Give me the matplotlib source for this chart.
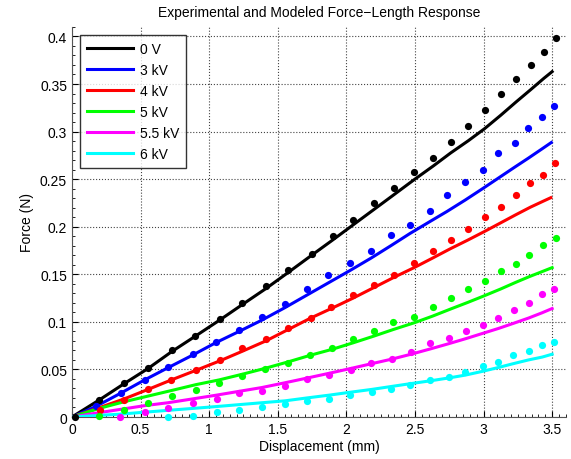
import matplotlib
matplotlib.use("Agg")
import matplotlib.pyplot as plt
from matplotlib.ticker import MultipleLocator

plt.rcParams['font.family'] = ['Liberation Sans', 'DejaVu Sans']

# Experimental points (displacement mm, force N)
exp_x_0v = [0.02, 0.20, 0.38, 0.555, 0.73, 0.90, 1.078, 1.24, 1.414, 1.577, 1.747, 1.90, 2.05,
            2.20, 2.35, 2.49, 2.635, 2.76, 2.89, 3.007, 3.124, 3.236, 3.343, 3.44, 3.526]
exp_y_0v = [0.0, 0.018, 0.036, 0.052, 0.0705, 0.0856, 0.103, 0.12, 0.138, 0.154, 0.1716, 0.19, 0.2067,
            0.2245, 0.241, 0.257, 0.2726, 0.289, 0.306, 0.3228, 0.3397, 0.355, 0.370, 0.384, 0.3986]

exp_x_3kv = [0.173, 0.355, 0.53, 0.703, 0.879, 1.047, 1.219, 1.387, 1.553, 1.711, 1.869, 2.027,
             2.18, 2.324, 2.465, 2.61, 2.733, 2.866, 2.993, 3.107, 3.226, 3.326, 3.423, 3.516]
exp_y_3kv = [0.0113, 0.0253, 0.0393, 0.053, 0.0663, 0.0793, 0.0919, 0.1056, 0.119, 0.1347, 0.1488, 0.162,
             0.175, 0.191, 0.2014, 0.217, 0.233, 0.247, 0.260, 0.277, 0.288, 0.3035, 0.3154, 0.327]

exp_x_4kv = [0.203, 0.38, 0.555, 0.725, 0.903, 1.078, 1.24, 1.414, 1.577, 1.74, 1.89, 2.05,
             2.20, 2.35, 2.494, 2.628, 2.76, 2.886, 3.007, 3.124, 3.234, 3.341, 3.43, 3.523]
exp_y_4kv = [0.0077, 0.0182, 0.0295, 0.039, 0.0495, 0.0603, 0.0723, 0.082, 0.094, 0.1039, 0.1154, 0.1284,
             0.139, 0.1495, 0.162, 0.174, 0.186, 0.198, 0.210, 0.2207, 0.233, 0.246, 0.2544, 0.267]

exp_x_5kv = [0.197, 0.38, 0.555, 0.73, 0.903, 1.073, 1.243, 1.404, 1.577, 1.735, 1.893, 2.05,
             2.20, 2.343, 2.494, 2.628, 2.76, 2.886, 3.007, 3.124, 3.234, 3.333, 3.43, 3.526]
exp_y_5kv = [0.0014, 0.0074, 0.0144, 0.0224, 0.0284, 0.0355, 0.0435, 0.0505, 0.0566, 0.0653, 0.0723, 0.082,
             0.090, 0.0996, 0.1056, 0.1154, 0.125, 0.1344, 0.1432, 0.153, 0.161, 0.1705, 0.1803, 0.188]

exp_x_55kv = [0.353, 0.533, 0.70, 0.879, 1.054, 1.219, 1.387, 1.553, 1.716, 1.876, 2.032, 2.183,
              2.336, 2.472, 2.611, 2.745, 2.874, 2.996, 3.107, 3.219, 3.328, 3.426, 3.516]
exp_y_55kv = [0.0003, 0.0056, 0.0095, 0.0146, 0.019, 0.0253, 0.0277, 0.0326, 0.040, 0.0442, 0.0495, 0.0565,
              0.061, 0.0688, 0.0775, 0.0828, 0.090, 0.0972, 0.1045, 0.1126, 0.1197, 0.1295, 0.1347]

exp_x_6kv = [0.70, 0.879, 1.054, 1.219, 1.385, 1.553, 1.711, 1.876, 2.027, 2.185, 2.324, 2.465,
             2.611, 2.745, 2.866, 2.993, 3.107, 3.215, 3.328, 3.428, 3.516]
exp_y_6kv = [0.0003, 0.0014, 0.005, 0.0074, 0.0102, 0.0137, 0.0165, 0.019, 0.0232, 0.026, 0.0295, 0.0337,
             0.039, 0.0418, 0.047, 0.054, 0.0582, 0.0653, 0.0698, 0.0758, 0.0793]

# Model curves
mod_x_0v = [0.0, 0.20, 0.38, 0.555, 0.73, 0.90, 1.078, 1.24, 1.414, 1.577, 1.747, 1.90, 2.05,
            2.20, 2.35, 2.49, 2.635, 2.76, 2.89, 3.007, 3.124, 3.236, 3.343, 3.44, 3.50]
mod_y_0v = [0.0, 0.018, 0.035, 0.051, 0.069, 0.085, 0.102, 0.118, 0.135, 0.152, 0.170, 0.186, 0.202,
            0.218, 0.234, 0.249, 0.264, 0.2775, 0.2905, 0.303, 0.317, 0.331, 0.344, 0.356, 0.363]

mod_x_3kv = [0.0, 0.173, 0.355, 0.53, 0.703, 0.879, 1.047, 1.219, 1.387, 1.553, 1.711, 1.869, 2.027,
             2.18, 2.324, 2.465, 2.61, 2.733, 2.866, 2.993, 3.107, 3.226, 3.326, 3.423, 3.494]
mod_y_3kv = [0.0, 0.011, 0.025, 0.039, 0.052, 0.065, 0.078, 0.090, 0.102, 0.115, 0.128, 0.141, 0.154,
             0.167, 0.180, 0.193, 0.2055, 0.216, 0.228, 0.240, 0.251, 0.2625, 0.272, 0.2815, 0.2885]

mod_x_4kv = [0.0, 0.203, 0.38, 0.555, 0.725, 0.903, 1.078, 1.24, 1.414, 1.577, 1.74, 1.89, 2.05,
             2.20, 2.35, 2.494, 2.628, 2.76, 2.886, 3.007, 3.124, 3.234, 3.341, 3.43, 3.49]
mod_y_4kv = [0.0, 0.010, 0.019, 0.029, 0.039, 0.049, 0.059, 0.069, 0.080, 0.092, 0.104, 0.114, 0.125,
             0.136, 0.147, 0.157, 0.167, 0.177, 0.186, 0.195, 0.204, 0.2125, 0.2205, 0.2265, 0.2305]

mod_x_5kv = [0.0, 0.197, 0.38, 0.555, 0.73, 0.903, 1.073, 1.243, 1.404, 1.577, 1.74, 1.893, 2.05,
             2.20, 2.343, 2.494, 2.628, 2.76, 2.886, 3.007, 3.124, 3.234, 3.333, 3.43, 3.50]
mod_y_5kv = [0.0, 0.009, 0.016, 0.022, 0.028, 0.034, 0.039, 0.045, 0.051, 0.058, 0.065, 0.071, 0.078,
             0.085, 0.092, 0.099, 0.106, 0.1135, 0.1205, 0.1275, 0.1345, 0.1415, 0.1475, 0.153, 0.157]

mod_x_55kv = [0.0, 0.173, 0.353, 0.533, 0.70, 0.879, 1.054, 1.219, 1.385, 1.553, 1.716, 1.876, 2.032,
              2.183, 2.336, 2.472, 2.611, 2.745, 2.874, 2.996, 3.107, 3.219, 3.328, 3.426, 3.50]
mod_y_55kv = [0.0, 0.004, 0.008, 0.012, 0.015, 0.019, 0.023, 0.027, 0.031, 0.036, 0.041, 0.046, 0.051,
              0.056, 0.061, 0.066, 0.0715, 0.077, 0.0825, 0.088, 0.093, 0.0985, 0.104, 0.1095, 0.114]

mod_x_6kv = [0.0, 0.35, 0.70, 0.879, 1.054, 1.219, 1.385, 1.553, 1.711, 1.876, 2.027, 2.185,
             2.324, 2.465, 2.611, 2.745, 2.866, 2.993, 3.107, 3.215, 3.328, 3.428, 3.50]
mod_y_6kv = [0.0, 0.003, 0.007, 0.009, 0.011, 0.013, 0.015, 0.017, 0.020, 0.023, 0.026, 0.029,
             0.032, 0.035, 0.038, 0.041, 0.044, 0.048, 0.052, 0.056, 0.060, 0.063, 0.066]

labels = ['0 V', '3 kV', '4 kV', '5 kV', '5.5 kV', '6 kV']
colors = ['#000000', '#0000ff', '#ff0000', '#00ff00', '#ff00ff', '#00ffff']

exp_x = [exp_x_0v, exp_x_3kv, exp_x_4kv, exp_x_5kv, exp_x_55kv, exp_x_6kv]
exp_y = [exp_y_0v, exp_y_3kv, exp_y_4kv, exp_y_5kv, exp_y_55kv, exp_y_6kv]
mod_x = [mod_x_0v, mod_x_3kv, mod_x_4kv, mod_x_5kv, mod_x_55kv, mod_x_6kv]
mod_y = [mod_y_0v, mod_y_3kv, mod_y_4kv, mod_y_5kv, mod_y_55kv, mod_y_6kv]

fig = plt.figure(figsize=(5.71, 4.6), dpi=100)
ax = fig.add_axes([0.126, 0.0913, 0.865, 0.848])

# model lines first so the legend uses them
for mx, my, c, lab in zip(mod_x, mod_y, colors, labels):
    ax.plot(mx, my, color=c, linewidth=2.2, label=lab, zorder=3)
for ex, ey, c in zip(exp_x, exp_y, colors):
    ax.plot(ex, ey, 'o', color=c, markersize=5.2, markeredgewidth=0, zorder=4, clip_on=False)

ax.set_xlim(0, 3.6)
ax.set_ylim(0, 0.41)
ax.xaxis.set_major_locator(MultipleLocator(0.5))
ax.xaxis.set_minor_locator(MultipleLocator(0.05))
ax.yaxis.set_major_locator(MultipleLocator(0.05))
ax.yaxis.set_minor_locator(MultipleLocator(0.01))
ax.set_xticklabels([f'{v:g}' for v in ax.get_xticks()])
ax.set_yticklabels([f'{v:g}' for v in ax.get_yticks()])

ax.tick_params(which='both', direction='in', labelsize=10)
ax.tick_params(which='major', length=4)
ax.tick_params(which='minor', length=2)
ax.grid(True, which='major', linestyle=':', color='#444444', linewidth=0.8)
ax.spines['top'].set_visible(False)
ax.spines['right'].set_visible(False)
ax.spines['left'].set_color('#555555')
ax.spines['bottom'].set_color('#555555')

ax.set_xlabel('Displacement (mm)', fontsize=10, labelpad=2)
ax.set_ylabel('Force (N)', fontsize=10, labelpad=4)
ax.set_title('Experimental and Modeled Force\u2212Length Response', fontsize=10, pad=8)

leg = ax.legend(loc='upper left', fontsize=10, frameon=True, fancybox=False,
                edgecolor='black', handlelength=3.3, handletextpad=0.5, labelspacing=0.5,
                borderaxespad=0.6, borderpad=0.5)
leg.get_frame().set_linewidth(1.0)

fig.savefig('out.png', dpi=100)
